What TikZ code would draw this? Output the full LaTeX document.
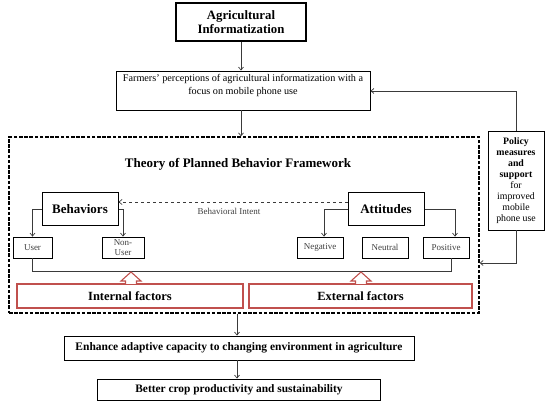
\documentclass[tikz,border=0pt]{standalone}
\usepackage{fontspec}
\setmainfont{Liberation Serif}
\usetikzlibrary{arrows.meta}
\definecolor{lnc}{HTML}{3A3A3A}
\definecolor{redc}{HTML}{C0504D}
\begin{document}
\begin{tikzpicture}[x=1pt,y=-1pt,
  box/.style={draw=black, line width=0.9pt, inner sep=0pt, align=center},
  bigbox/.style={box, line width=1.2pt},
  smallbox/.style={box, line width=0.8pt, text=black!75, font=\fontsize{9}{9.5}\selectfont},
  redbox/.style={draw=redc, line width=1.1pt, inner sep=0pt, font=\bfseries\fontsize{12.5}{14}\selectfont},
  conn/.style={draw=lnc, line width=0.7pt},
  arr/.style={conn, -{Straight Barb[length=3pt,width=5pt]}},
  hollow/.style={draw=redc, line width=1.1pt, fill=white, line join=miter}
]
\useasboundingbox (0,0) rectangle (550,401);

% top boxes
\node[bigbox, minimum width=130pt, minimum height=38pt, font=\bfseries\fontsize{12.8}{14.5}\selectfont] (agri) at (241,22) {Agricultural\\Informatization};
\node[box, minimum width=254pt, minimum height=39pt] (farm) at (243,90.5) {};
\node[inner sep=0pt, align=center, font=\fontsize{10.2}{12.5}\selectfont, anchor=north] (farmtxt) at (243,74.5) {Farmers' perceptions of agricultural informatization with a\\focus on mobile phone use};

% policy box
\node[box, minimum width=56pt, minimum height=99pt, font=\fontsize{9.8}{11}\selectfont] (policy) at (516,180.5) {\textbf{Policy}\\\textbf{measures}\\\textbf{and}\\\textbf{support}\\for\\improved\\mobile\\phone use};

% dashed frame
\node[draw=black, line width=1.3pt, dash pattern=on 3.6pt off 1.6pt, minimum width=470pt, minimum height=176pt, inner sep=0pt] (frame) at (244,225) {};
\node[font=\bfseries\fontsize{13}{15}\selectfont, inner sep=0pt] (title) at (238,164) {Theory of Planned Behavior Framework};

% behaviors / attitudes
\node[box, line width=1pt, minimum width=76pt, minimum height=33pt, font=\bfseries\fontsize{13}{15}\selectfont] (beh) at (80,209.5) {Behaviors};
\node[box, line width=1pt, minimum width=76pt, minimum height=33pt, font=\bfseries\fontsize{13}{15}\selectfont] (att) at (386,209.5) {Attitudes};

\node[smallbox, minimum width=39pt, minimum height=21pt] (user) at (32.5,247.5) {User};
\node[smallbox, minimum width=42pt, minimum height=21pt] (nonuser) at (123,247.5) {Non-\\User};
\node[smallbox, minimum width=46pt, minimum height=21pt] (neg) at (320,247.5) {Negative};
\node[smallbox, minimum width=46pt, minimum height=21pt] (neu) at (385,247.5) {Neutral};
\node[smallbox, minimum width=46pt, minimum height=21pt] (pos) at (446,247.5) {Positive};

\node[inner sep=0pt, text=black!75, font=\fontsize{9}{10}\selectfont] (intent) at (229,211) {Behavioral Intent};

% factor boxes
\node[redbox, minimum width=226pt, minimum height=24pt] (internal) at (130,296) {Internal factors};
\node[redbox, minimum width=223pt, minimum height=24pt] (external) at (360.5,296) {External factors};

% bottom boxes
\node[box, minimum width=350pt, minimum height=24pt, font=\bfseries\fontsize{11.5}{13}\selectfont] (enh) at (239,348) {Enhance adaptive capacity to changing environment in agriculture};
\node[box, minimum width=283.5pt, minimum height=21pt, font=\bfseries\fontsize{11.4}{13}\selectfont] (better) at (239,389.5) {Better crop productivity and sustainability};

% connectors
\draw[arr] (agri.south) -- (agri.south |- farm.north);
\draw[arr] ([xshift=-2pt]farm.south) -- ([xshift=-2pt]farm.south |- frame.north);
\draw[arr] (policy.north) -- (policy.north |- 0,91) -- (farm.east |- 0,91);
\draw[arr] (policy.south) -- (policy.south |- 0,263) -- (frame.east |- 0,263);

\draw[arr] (beh.west) -- (user.north |- beh.west) -- (user.north);
\draw[arr] (beh.east) -- (nonuser.north |- beh.east) -- (nonuser.north);
\draw[arr] (att.west) -- ([xshift=4pt]neg.north |- att.west) -- ([xshift=4pt]neg.north);
\draw[arr] (att.east) -- ([xshift=9pt]pos.north |- att.east) -- ([xshift=9pt]pos.north);
\draw[conn, dashed, -{Straight Barb[length=3pt,width=5pt]}] (att.west |- 0,202) -- (beh.east |- 0,202);

\coordinate (busl) at (32.5,271);
\coordinate (busr) at (451,271);
\draw[conn] (user.south) -- (busl) -- (busr) -- ([xshift=5pt]pos.south);

% hollow arrows
\draw[hollow] (125.5,284) -- (125.5,281) -- (121,281) -- (131,272) -- (141,281) -- (136.5,281) -- (136.5,284);
\draw[hollow] (355.5,284) -- (355.5,281) -- (351,281) -- (361,272) -- (371,281) -- (366.5,281) -- (366.5,284);

\draw[arr] ([xshift=-7pt]frame.south) -- ([xshift=-7pt]frame.south |- enh.north);
\draw[arr] ([xshift=-2pt]enh.south) -- ([xshift=-2pt]enh.south |- better.north);
\end{tikzpicture}
\end{document}
